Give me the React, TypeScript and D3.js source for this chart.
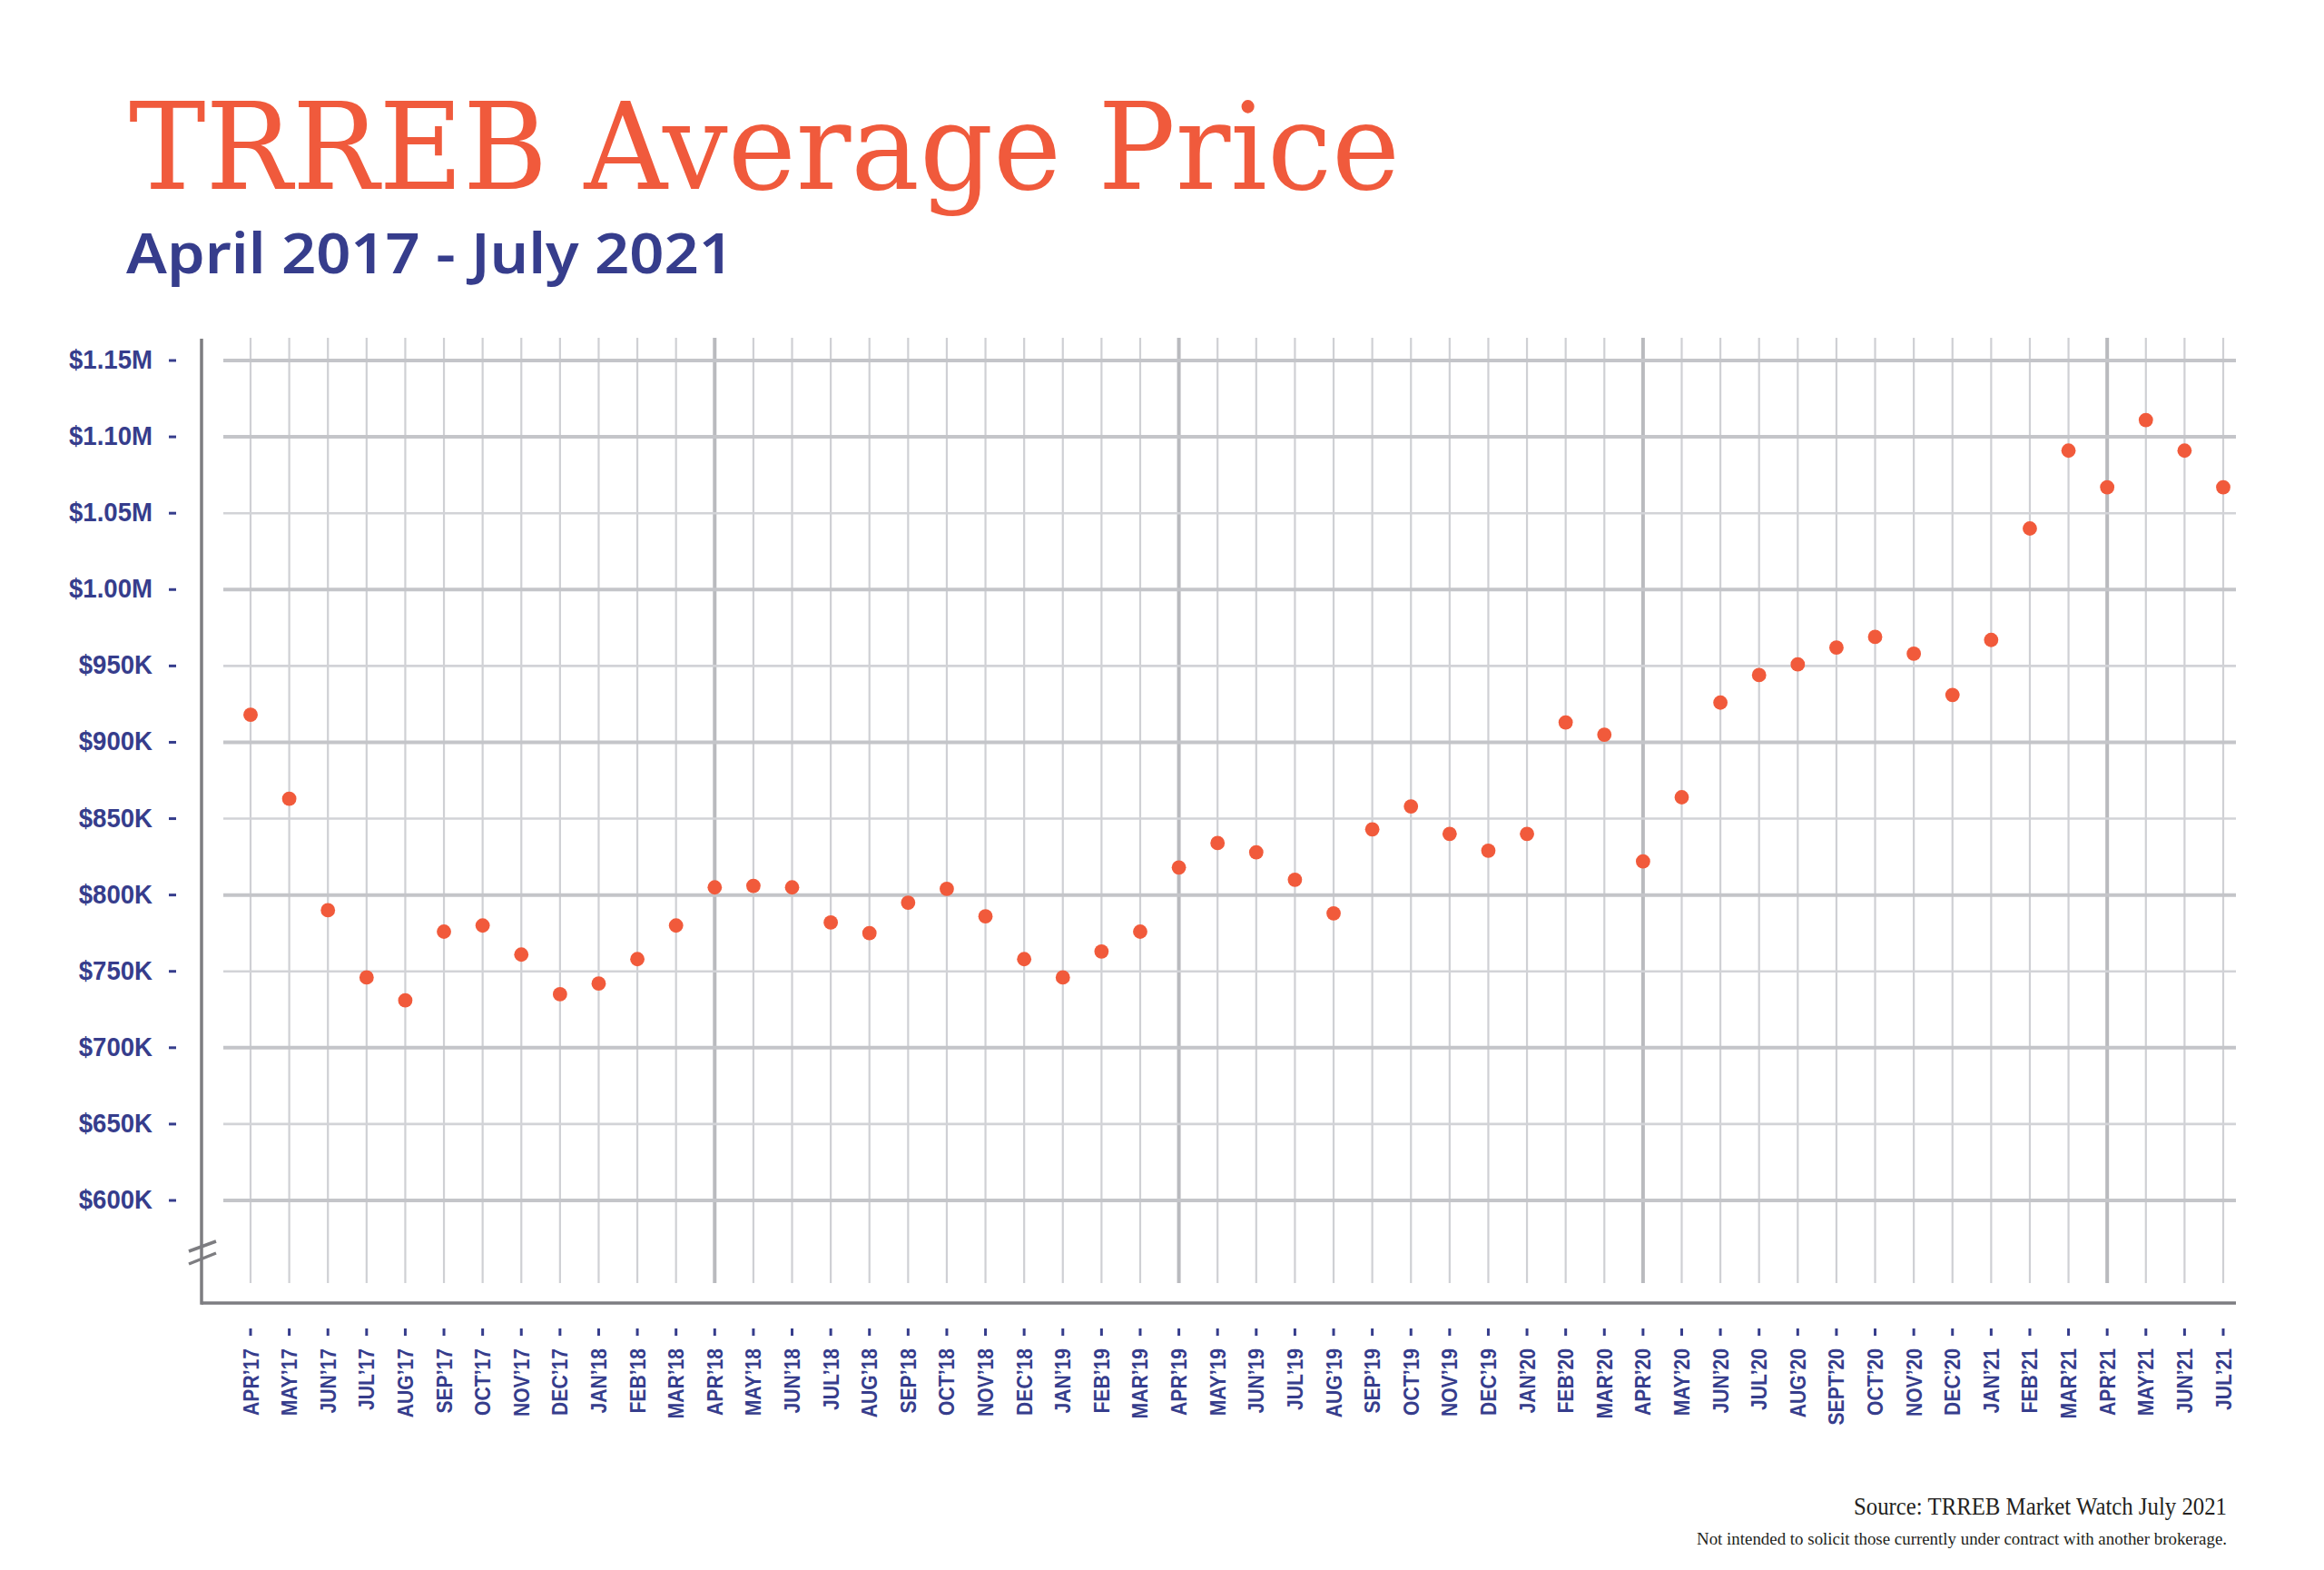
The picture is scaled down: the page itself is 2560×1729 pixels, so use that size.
import * as d3 from 'd3'

const months = [
  'APR’17', 'MAY’17', 'JUN’17', 'JUL’17', 'AUG’17', 'SEP’17', 'OCT’17', 'NOV’17', 'DEC’17',
  'JAN’18', 'FEB’18', 'MAR’18', 'APR’18', 'MAY’18', 'JUN’18', 'JUL’18', 'AUG’18', 'SEP’18',
  'OCT’18', 'NOV’18', 'DEC’18', 'JAN’19', 'FEB’19', 'MAR’19', 'APR’19', 'MAY’19', 'JUN’19',
  'JUL’19', 'AUG’19', 'SEP’19', 'OCT’19', 'NOV’19', 'DEC’19', 'JAN’20', 'FEB’20', 'MAR’20',
  'APR’20', 'MAY’20', 'JUN’20', 'JUL’20', 'AUG’20', 'SEPT’20', 'OCT’20', 'NOV’20', 'DEC’20',
  'JAN’21', 'FEB’21', 'MAR’21', 'APR’21', 'MAY’21', 'JUN’21', 'JUL’21',
]

// average price, thousands of dollars
const avgPrice = [
  918, 863, 790, 746, 731, 776, 780, 761, 735,
  742, 758, 780, 805, 806, 805, 782, 775, 795,
  804, 786, 758, 746, 763, 776, 818, 834, 828,
  810, 788, 843, 858, 840, 829, 840, 913, 905,
  822, 864, 926, 944, 951, 962, 969, 958, 931,
  967, 1040, 1091, 1067, 1111, 1091, 1067,
]

const yTicks = [1150, 1100, 1050, 1000, 950, 900, 850, 800, 750, 700, 650, 600]
const yTickLabels = [
  '$1.15M', '$1.10M', '$1.05M', '$1.00M', '$950K', '$900K',
  '$850K', '$800K', '$750K', '$700K', '$650K', '$600K',
]

const ORANGE = '#f05a3c'
const NAVY = '#363d8c'
const AXIS = '#7d7d81'

export default function App() {
  const width = 2560
  const height = 1729

  const x = d3.scalePoint<string>().domain(months).range([276, 2449])
  const y = d3.scaleLinear().domain([600, 1150]).range([1322, 397])

  const gridLeft = 246
  const gridRight = 2463
  const gridTop = 372
  const gridBottom = 1413
  const axisX = 222
  const axisY = 1435

  return (
    <svg
      width={width}
      height={height}
      viewBox={`0 0 ${width} ${height}`}
      style={{ position: 'absolute', left: 0, top: 0, background: '#fff' }}
    >
      <rect width={width} height={height} fill="#fff" />

      <text
        x={142}
        y={208}
        fill={ORANGE}
        fontFamily="'DejaVu Serif', serif"
        fontSize={132}
        textLength={1400}
        lengthAdjust="spacingAndGlyphs"
      >
        TRREB Average Price
      </text>
      <text
        x={139}
        y={301}
        fill={NAVY}
        fontFamily="'Noto Sans', sans-serif"
        fontWeight={600}
        fontSize={61}
        textLength={669}
        lengthAdjust="spacingAndGlyphs"
      >
        April 2017 - July 2021
      </text>

      {/* vertical month grid, year marks on each April after the first */}
      {months.map((m, i) => {
        const yearMark = m.startsWith('APR') && i > 0
        return (
          <line
            key={`v-${m}`}
            x1={x(m)}
            x2={x(m)}
            y1={gridTop}
            y2={gridBottom}
            stroke={yearMark ? '#b9babe' : '#cfd0d4'}
            strokeWidth={yearMark ? 4 : 2.2}
          />
        )
      })}

      {/* horizontal value grid */}
      {yTicks.map((t, i) => {
        const major = t % 100 === 0 || i === 0
        return (
          <g key={`h-${t}`}>
            <line
              x1={gridLeft}
              x2={gridRight}
              y1={y(t)}
              y2={y(t)}
              stroke={major ? '#c4c5c9' : '#d2d3d7'}
              strokeWidth={major ? 4 : 2.6}
            />
            <line x1={186} x2={194} y1={y(t)} y2={y(t)} stroke={NAVY} strokeWidth={3} />
            <text
              transform={`translate(168, ${y(t) + 9}) scale(0.92, 1)`}
              textAnchor="end"
              fill={NAVY}
              fontFamily="'Liberation Sans', Arial, sans-serif"
              fontWeight={700}
              fontSize={30}
            >
              {yTickLabels[i]}
            </text>
          </g>
        )
      })}

      {/* axes */}
      <line x1={axisX} x2={axisX} y1={373} y2={axisY + 1.75} stroke={AXIS} strokeWidth={3.5} />
      <line x1={axisX} x2={gridRight} y1={axisY} y2={axisY} stroke={AXIS} strokeWidth={3.5} />
      <line x1={208} y1={1378} x2={238} y2={1367} stroke={AXIS} strokeWidth={3.5} />
      <line x1={208} y1={1392} x2={238} y2={1380} stroke={AXIS} strokeWidth={3.5} />

      {/* month ticks and labels */}
      {months.map((m) => {
        const cx = x(m) ?? 0
        return (
          <g key={`l-${m}`}>
            <line x1={cx} x2={cx} y1={1463} y2={1471} stroke={NAVY} strokeWidth={3} />
            <text
              transform={`translate(${cx + 8.5}, 1485) rotate(-90) scale(0.88, 1)`}
              textAnchor="end"
              fill={NAVY}
              fontFamily="'Liberation Sans', Arial, sans-serif"
              fontWeight={700}
              fontSize={24}
            >
              {m}
            </text>
          </g>
        )
      })}

      {/* data points */}
      {avgPrice.map((v, i) => (
        <circle key={`d-${months[i]}`} cx={x(months[i])} cy={y(v)} r={7.9} fill="#f15a3b" />
      ))}

      <text
        x={2453}
        y={1668}
        textAnchor="end"
        fill="#231f20"
        fontFamily="'Liberation Serif', serif"
        fontSize={27}
        textLength={411}
        lengthAdjust="spacingAndGlyphs"
      >
        Source: TRREB Market Watch July 2021
      </text>
      <text
        x={2453}
        y={1701}
        textAnchor="end"
        fill="#231f20"
        fontFamily="'Liberation Serif', serif"
        fontSize={19.5}
        textLength={584}
        lengthAdjust="spacingAndGlyphs"
      >
        Not intended to solicit those currently under contract with another brokerage.
      </text>
    </svg>
  )
}
